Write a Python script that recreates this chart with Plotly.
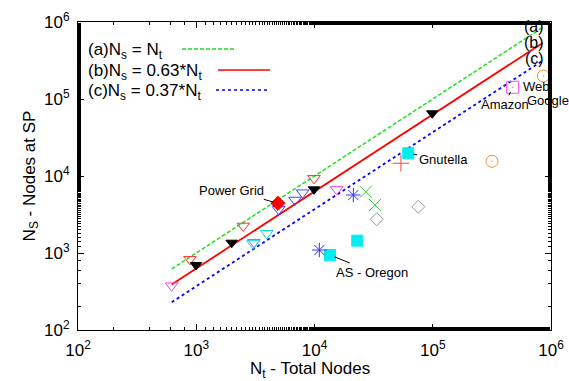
import plotly.graph_objects as go
import math

# Fit lines
line_x = [620, 850000]
coef_a, coef_b, coef_c = 1.0, 0.63, 0.37

# Data points (Nt, Ns) grouped by marker style
tri_magenta_x = [620, 3080, 15400]
tri_magenta_y = [376, 1380, 6700]
tri_red_x = [885, 2500, 9900]
tri_red_y = [828, 2245, 9330]
tri_black_x = [995, 1995, 9910, 99100]
tri_black_y = [698, 1361, 6710, 65200]
tri_cyan_x = [3020, 3945]
tri_cyan_y = [1330, 1803]
tri_blue_x = [4975, 6840, 7940]
tri_blue_y = [3690, 4875, 6070]
diamond_red_x = [4910]
diamond_red_y = [4416]
square_cyan_x = [13520, 23000, 62100]
square_cyan_y = [942, 1446, 19730]
star_blue_x = [10990, 21300]
star_blue_y = [1093, 5660]
x_green_x = [27200, 32500]
x_green_y = [6250, 4200]
diamond_gray_x = [33600, 75500]
diamond_gray_y = [2742, 3990]
plus_red_x = [53800]
plus_red_y = [14630]
circle_orange_x = [317000, 861000]
circle_orange_y = [15520, 199000]
square_magenta_x = [474000]
square_magenta_y = [141900]

tick_vals = [100, 1000, 10000, 100000, 1000000]
tick_text = ["10<sup>2</sup>", "10<sup>3</sup>", "10<sup>4</sup>", "10<sup>5</sup>", "10<sup>6</sup>"]

FONT = "Liberation Sans, Arial, sans-serif"
L, R, T, B = 78, 551, 22, 330
W, H = 569, 381

def px(x):
    return (x - L) / (R - L)

def py(y):
    return (B - y) / (B - T)

fig = go.Figure()

fig.add_trace(go.Scatter(x=line_x, y=[coef_a * v for v in line_x], mode="lines",
                         line=dict(color="#22dd22", width=1.5, dash="4px,2px"), showlegend=False))
fig.add_trace(go.Scatter(x=line_x, y=[coef_b * v for v in line_x], mode="lines",
                         line=dict(color="#ff0000", width=1.8), showlegend=False))
fig.add_trace(go.Scatter(x=line_x, y=[coef_c * v for v in line_x], mode="lines",
                         line=dict(color="#0000ff", width=1.8, dash="dot"), showlegend=False))

def pts(x, y, symbol, color, size, lw=1):
    fig.add_trace(go.Scatter(x=x, y=y, mode="markers", showlegend=False,
                             marker=dict(symbol=symbol, size=size, color=color,
                                         line=dict(color=color, width=lw))))

pts(tri_magenta_x, tri_magenta_y, "triangle-down-open", "#ee44ee", 11)
pts(tri_red_x, tri_red_y, "triangle-down-open", "#ff3333", 11)
pts(tri_cyan_x, tri_cyan_y, "triangle-down-open", "#00dddd", 11)
pts(tri_blue_x, tri_blue_y, "triangle-down-open", "#4444ff", 11)
pts(tri_black_x, tri_black_y, "triangle-down", "#000000", 10)
pts(diamond_red_x, diamond_red_y, "diamond", "#ff0000", 11)
pts(square_cyan_x, square_cyan_y, "square", "#00eeee", 11)
pts(star_blue_x, star_blue_y, "asterisk-open", "#3333ff", 12)
pts(x_green_x, x_green_y, "x-thin-open", "#33cc33", 12)
pts(diamond_gray_x, diamond_gray_y, "diamond-open", "#999999", 10)
pts(plus_red_x, plus_red_y, "cross-thin-open", "#ff4444", 12)
pts(circle_orange_x, circle_orange_y, "circle-open-dot", "#ff8833", 12)
pts(square_magenta_x, square_magenta_y, "square-open-dot", "#ff44ff", 12)

annots = []
def lab(x, y, text, ax, ay):
    annots.append(dict(x=math.log10(x), y=math.log10(y), xref="x", yref="y", text=text,
                       showarrow=True, arrowhead=0, arrowwidth=1, arrowcolor="black",
                       ax=ax, ay=ay, standoff=5, font=dict(family=FONT, size=13, color="black")))

lab(diamond_red_x[0], diamond_red_y[0], "Power Grid", -46, -13)
lab(square_cyan_x[0], square_cyan_y[0], "AS - Oregon", 42, 17)
lab(square_cyan_x[2], square_cyan_y[2], "Gnutella", 35, 6)
lab(square_magenta_x[0], square_magenta_y[0], "Amazon", -8, 17)
lab(circle_orange_x[1], circle_orange_y[1], "Web", -7, 11)
annots.append(dict(x=px(548), y=py(100), xref="paper", yref="paper", text="Google",
                   showarrow=False, xanchor="center", yanchor="middle",
                   font=dict(family=FONT, size=13, color="black")))

for t, yy in [("(a)", 26), ("(b)", 42), ("(c)", 58)]:
    annots.append(dict(x=px(534), y=py(yy), xref="paper", yref="paper", text=t,
                       showarrow=False, xanchor="center", yanchor="middle",
                       font=dict(family=FONT, size=16, color="black")))

leg = [("(a)N<sub>s</sub> = N<sub>t</sub>", 51, 182, 235, "#22dd22", "4px,2px"),
       ("(b)N<sub>s</sub> = 0.63*N<sub>t</sub>", 72, 218, 270, "#ff0000", "solid"),
       ("(c)N<sub>s</sub> = 0.37*N<sub>t</sub>", 92, 216, 267, "#0000ff", "dot")]
shapes = []
for text, yy, x0, x1, col, dash in leg:
    annots.append(dict(x=px(86), y=py(yy), xref="paper", yref="paper", text=text,
                       showarrow=False, xanchor="left", yanchor="middle",
                       font=dict(family=FONT, size=17, color="black")))
    shapes.append(dict(type="line", xref="paper", yref="paper",
                       x0=px(x0), x1=px(x1), y0=py(yy - 2), y1=py(yy - 2),
                       line=dict(color=col, width=1.5, dash=dash)))

# x-axis title placed as a paper annotation just below the tick labels
annots.append(dict(x=px(310), y=py(370), xref="paper", yref="paper",
                   text="N<sub>t</sub> - Total Nodes", showarrow=False,
                   xanchor="center", yanchor="middle",
                   font=dict(family=FONT, size=17, color="black")))

axis_common = dict(type="log", range=[2, 6], tickvals=tick_vals, ticktext=tick_text,
                   ticks="inside", ticklen=6, tickcolor="black", showline=True,
                   linecolor="black", linewidth=1, mirror="ticks", showgrid=False,
                   zeroline=False, automargin=False,
                   tickfont=dict(family=FONT, size=17, color="black"),
                   minor=dict(ticks="inside", ticklen=3, tickcolor="black", showgrid=False))

fig.update_layout(
    width=W, height=H,
    margin=dict(l=L, r=W - R, t=T, b=H - B),
    plot_bgcolor="white", paper_bgcolor="white",
    xaxis=dict(axis_common, ticklabelstandoff=5),
    yaxis=dict(axis_common, ticklabelstandoff=4,
               title=dict(text="N<sub>S</sub> - Nodes at SP",
                          font=dict(family=FONT, size=17, color="black"), standoff=4)),
    annotations=annots, shapes=shapes,
)

fig.write_html("out.html")
